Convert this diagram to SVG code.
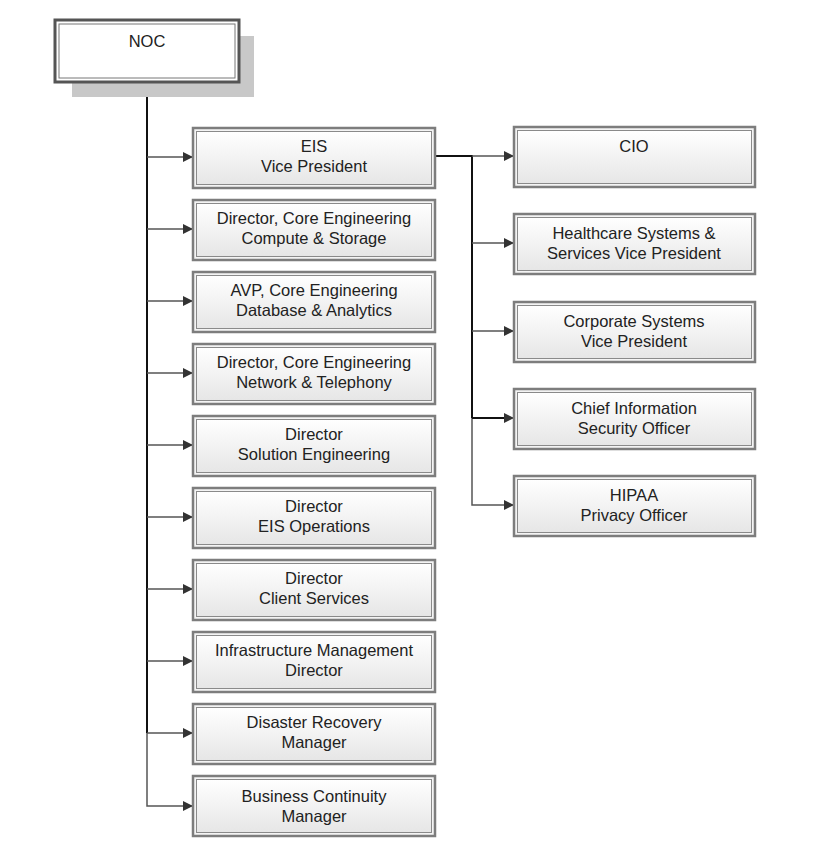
<svg xmlns="http://www.w3.org/2000/svg" width="827" height="858" viewBox="0 0 827 858">
<defs>
<linearGradient id="g" x1="0" y1="0" x2="0" y2="1">
<stop offset="0" stop-color="#ffffff"/>
<stop offset="1" stop-color="#e6e6e6"/>
</linearGradient>
<marker id="ah" markerWidth="10" markerHeight="10" refX="9" refY="5" orient="auto" markerUnits="userSpaceOnUse">
<path d="M0,0 L10,5 L0,10 Z" fill="#333"/>
</marker>
<style>
.outer{fill:#f4f4f4;stroke:#7d7d7d;stroke-width:2.5}
.inner{fill:url(#g);stroke:#8a8a8a;stroke-width:1}
.t{font-family:"Liberation Sans",Arial,sans-serif;font-size:16.5px;fill:#222;text-anchor:middle}
.c{fill:none;stroke:#555;stroke-width:1.5}
.k{fill:none;stroke:#111;stroke-width:2}
</style>
</defs>
<rect width="827" height="858" fill="#fff"/>
<g id="connectors">
<path class="k" d="M147,82 V733"/>
<path class="c" d="M147,733 V806 H192" marker-end="url(#ah)"/>
<path class="c" d="M147,157 H192" marker-end="url(#ah)"/>
<path class="c" d="M147,229 H192" marker-end="url(#ah)"/>
<path class="c" d="M147,301 H192" marker-end="url(#ah)"/>
<path class="c" d="M147,373 H192" marker-end="url(#ah)"/>
<path class="c" d="M147,445 H192" marker-end="url(#ah)"/>
<path class="c" d="M147,517 H192" marker-end="url(#ah)"/>
<path class="c" d="M147,589 H192" marker-end="url(#ah)"/>
<path class="c" d="M147,661 H192" marker-end="url(#ah)"/>
<path class="c" d="M147,733 H192" marker-end="url(#ah)"/>
<path class="k" d="M435,156 H472 V418"/>
<path class="c" d="M472,418 V505 H513" marker-end="url(#ah)"/>
<path class="c" d="M472,156 H513" marker-end="url(#ah)"/>
<path class="c" d="M472,243 H513" marker-end="url(#ah)"/>
<path class="c" d="M472,331 H513" marker-end="url(#ah)"/>
<path class="k" d="M472,418 H505"/>
<path class="c" d="M505,418 H513" marker-end="url(#ah)"/>
</g>
<g id="noc">
<rect x="72" y="36" width="182" height="61" fill="#c8c8c8"/>
<rect x="55" y="20" width="184" height="62" fill="#fff" stroke="#555" stroke-width="3"/>
<rect x="59" y="24" width="176" height="54" fill="#fff" stroke="#777" stroke-width="1"/>
<text class="t" x="147" y="47">NOC</text>
</g>
<g id="eis">
<rect class="outer" x="193" y="128" width="242" height="60"/>
<rect class="inner" x="196.5" y="131.5" width="235" height="53"/>
<text class="t" x="314" y="152">EIS</text>
<text class="t" x="314" y="172">Vice President</text>
</g>
<g id="dir-compute">
<rect class="outer" x="193" y="200" width="242" height="60"/>
<rect class="inner" x="196.5" y="203.5" width="235" height="53"/>
<text class="t" x="314" y="224">Director, Core Engineering</text>
<text class="t" x="314" y="244">Compute &amp; Storage</text>
</g>
<g id="avp-db">
<rect class="outer" x="193" y="272" width="242" height="60"/>
<rect class="inner" x="196.5" y="275.5" width="235" height="53"/>
<text class="t" x="314" y="296">AVP, Core Engineering</text>
<text class="t" x="314" y="316">Database &amp; Analytics</text>
</g>
<g id="dir-network">
<rect class="outer" x="193" y="344" width="242" height="60"/>
<rect class="inner" x="196.5" y="347.5" width="235" height="53"/>
<text class="t" x="314" y="368">Director, Core Engineering</text>
<text class="t" x="314" y="388">Network &amp; Telephony</text>
</g>
<g id="dir-solution">
<rect class="outer" x="193" y="416" width="242" height="60"/>
<rect class="inner" x="196.5" y="419.5" width="235" height="53"/>
<text class="t" x="314" y="440">Director</text>
<text class="t" x="314" y="460">Solution Engineering</text>
</g>
<g id="dir-eisops">
<rect class="outer" x="193" y="488" width="242" height="60"/>
<rect class="inner" x="196.5" y="491.5" width="235" height="53"/>
<text class="t" x="314" y="512">Director</text>
<text class="t" x="314" y="532">EIS Operations</text>
</g>
<g id="dir-client">
<rect class="outer" x="193" y="560" width="242" height="60"/>
<rect class="inner" x="196.5" y="563.5" width="235" height="53"/>
<text class="t" x="314" y="584">Director</text>
<text class="t" x="314" y="604">Client Services</text>
</g>
<g id="infra">
<rect class="outer" x="193" y="632" width="242" height="60"/>
<rect class="inner" x="196.5" y="635.5" width="235" height="53"/>
<text class="t" x="314" y="656">Infrastructure Management</text>
<text class="t" x="314" y="676">Director</text>
</g>
<g id="dr">
<rect class="outer" x="193" y="704" width="242" height="60"/>
<rect class="inner" x="196.5" y="707.5" width="235" height="53"/>
<text class="t" x="314" y="728">Disaster Recovery</text>
<text class="t" x="314" y="748">Manager</text>
</g>
<g id="bc">
<rect class="outer" x="193" y="776" width="242" height="60"/>
<rect class="inner" x="196.5" y="779.5" width="235" height="53"/>
<text class="t" x="314" y="802">Business Continuity</text>
<text class="t" x="314" y="822">Manager</text>
</g>
<g id="cio">
<rect class="outer" x="514" y="127" width="241" height="60"/>
<rect class="inner" x="517.5" y="130.5" width="234" height="53"/>
<text class="t" x="634" y="152">CIO</text>
</g>
<g id="healthcare">
<rect class="outer" x="514" y="214" width="241" height="60"/>
<rect class="inner" x="517.5" y="217.5" width="234" height="53"/>
<text class="t" x="634" y="239">Healthcare Systems &amp;</text>
<text class="t" x="634" y="259">Services Vice President</text>
</g>
<g id="corporate">
<rect class="outer" x="514" y="302" width="241" height="60"/>
<rect class="inner" x="517.5" y="305.5" width="234" height="53"/>
<text class="t" x="634" y="327">Corporate Systems</text>
<text class="t" x="634" y="347">Vice President</text>
</g>
<g id="ciso">
<rect class="outer" x="514" y="389" width="241" height="60"/>
<rect class="inner" x="517.5" y="392.5" width="234" height="53"/>
<text class="t" x="634" y="414">Chief Information</text>
<text class="t" x="634" y="434">Security Officer</text>
</g>
<g id="hipaa">
<rect class="outer" x="514" y="476" width="241" height="60"/>
<rect class="inner" x="517.5" y="479.5" width="234" height="53"/>
<text class="t" x="634" y="501">HIPAA</text>
<text class="t" x="634" y="521">Privacy Officer</text>
</g>
</svg>
